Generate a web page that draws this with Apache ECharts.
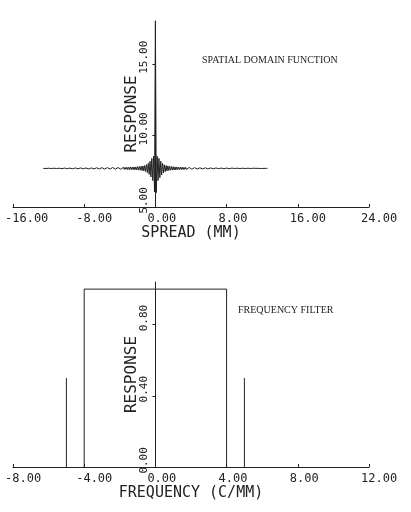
<!DOCTYPE html>
<html>
<head>
<meta charset="utf-8">
<script src="https://cdn.jsdelivr.net/npm/echarts@6/dist/echarts.min.js"></script>
<style>
    html, body { margin: 0; padding: 0; background: #fff; }
    #main { width: 411px; height: 512px; }
</style>
</head>
<body>
<div id="main"></div>
<script>
// spatial domain function, sampled every 0.1 mm from -12.6 mm
var spatialStart = -12.6;
var spatialStep = 0.1;
var spatialValues = [
    7.70, 7.69, 7.71, 7.69, 7.71, 7.69, 7.71, 7.69, 7.71, 7.69,
    7.71, 7.69, 7.71, 7.68, 7.71, 7.69, 7.72, 7.69, 7.71, 7.68,
    7.72, 7.68, 7.71, 7.68, 7.72, 7.68, 7.72, 7.68, 7.72, 7.68,
    7.72, 7.68, 7.72, 7.67, 7.72, 7.68, 7.73, 7.67, 7.72, 7.67,
    7.73, 7.67, 7.73, 7.67, 7.73, 7.67, 7.73, 7.67, 7.73, 7.67,
    7.73, 7.66, 7.74, 7.67, 7.73, 7.66, 7.74, 7.66, 7.74, 7.66,
    7.74, 7.66, 7.74, 7.66, 7.74, 7.65, 7.75, 7.66, 7.74, 7.65,
    7.75, 7.65, 7.75, 7.65, 7.75, 7.65, 7.75, 7.64, 7.76, 7.65,
    7.76, 7.64, 7.76, 7.64, 7.76, 7.64, 7.77, 7.64, 7.76, 7.63,
    7.77, 7.63, 7.77, 7.63, 7.78, 7.62, 7.78, 7.62, 7.79, 7.61,
    7.79, 7.61, 7.80, 7.60, 7.80, 7.59, 7.82, 7.58, 7.83, 7.57,
    7.85, 7.55, 7.87, 7.52, 7.90, 7.48, 7.96, 7.40, 8.05, 7.28,
    8.20, 7.10, 8.40, 6.85, 8.55, 6.05,
    18.00,
    6.00, 8.55, 6.85, 8.40, 7.05, 8.20,
    7.25, 8.05, 7.38, 7.95, 7.47, 7.90, 7.52, 7.87, 7.55, 7.85,
    7.57, 7.83, 7.58, 7.82, 7.59, 7.80, 7.60, 7.80, 7.61, 7.79,
    7.61, 7.78, 7.62, 7.78, 7.62, 7.77, 7.63, 7.77, 7.63, 7.76,
    7.64, 7.76, 7.64, 7.76, 7.64, 7.75, 7.65, 7.75, 7.65, 7.75,
    7.65, 7.75, 7.66, 7.74, 7.65, 7.74, 7.66, 7.74, 7.66, 7.74,
    7.66, 7.74, 7.66, 7.73, 7.67, 7.73, 7.67, 7.73, 7.67, 7.73,
    7.67, 7.73, 7.67, 7.73, 7.68, 7.72, 7.67, 7.72, 7.68, 7.72,
    7.68, 7.72, 7.68, 7.72, 7.68, 7.72, 7.68, 7.72, 7.69, 7.72,
    7.68, 7.71, 7.69, 7.71, 7.69, 7.71, 7.69, 7.71, 7.69, 7.71,
    7.69, 7.71, 7.69, 7.71, 7.69, 7.71, 7.69, 7.71, 7.70, 7.71,
    7.69, 7.71, 7.70, 7.71, 7.69, 7.70, 7.70, 7.71, 7.69, 7.70,
    7.70, 7.71, 7.69, 7.70, 7.70, 7.70, 7.71, 7.70, 7.70, 7.70
];
var spatialXTicks = [-16, -8, 0, 8, 16, 24];
var spatialYTicks = [5, 10, 15];
var spatialYMax = 18;

// frequency filter, null splits the pen strokes
var freqX = [-5, -5, null, -4, -4, 4, 4, null, 5, 5];
var freqY = [0, 0.5, null, 0, 1, 1, 0, null, 0, 0.5];
var freqXTicks = [-8, -4, 0, 4, 8, 12];
var freqYTicks = [0, 0.4, 0.8];
var freqYMax = 1.04;

(function () {
    var ink = '#222';
    var mono = 'DejaVu Sans Mono';
    var gridLeft = 13, gridWidth = 356;

    var spatialData = spatialValues.map(function (v, i) {
        return [spatialStart + i * spatialStep, v];
    });

    // split freqX/freqY into separate strokes at the nulls
    var strokes = [[]];
    freqX.forEach(function (x, i) {
        if (x === null) {
            strokes.push([]);
        } else {
            strokes[strokes.length - 1].push([x, freqY[i]]);
        }
    });

    // plotter labels start a little left of the tick, not centred on it
    var xAxisOf = function (ticks, name, gridIndex) {
        return {
            type: 'value',
            gridIndex: gridIndex,
            min: ticks[0],
            max: ticks[ticks.length - 1],
            interval: ticks[1] - ticks[0],
            name: name,
            nameLocation: 'middle',
            nameGap: 19,
            nameMoveOverlap: false,
            nameTextStyle: { fontFamily: mono, fontSize: 15, color: ink },
            axisLine: { onZero: false, lineStyle: { color: ink, width: 1 } },
            axisTick: { inside: true, length: 3, lineStyle: { color: ink } },
            axisLabel: {
                margin: 6, fontFamily: mono, fontSize: 12, color: ink,
                align: 'left',
                padding: [0, 0, 0, -8],
                hideOverlap: false,
                formatter: function (v) { return v.toFixed(2); }
            },
            splitLine: { show: false }
        };
    };

    // y axis is drawn at x = 0: shift it in from the grid's left edge
    var yAxisOf = function (ticks, max, xTicks, gridIndex) {
        var zeroShift = gridWidth * (0 - xTicks[0]) / (xTicks[xTicks.length - 1] - xTicks[0]);
        return {
            type: 'value',
            gridIndex: gridIndex,
            min: ticks[0],
            max: max,
            offset: -zeroShift,
            name: 'RESPONSE',
            nameLocation: 'middle',
            nameRotate: 90,
            nameGap: 16,
            nameMoveOverlap: false,
            nameTextStyle: { fontFamily: mono, fontSize: 16, color: ink },
            axisLine: { onZero: false, lineStyle: { color: ink, width: 1 } },
            axisTick: { customValues: ticks, length: 3, lineStyle: { color: ink } },
            axisLabel: {
                customValues: ticks,
                rotate: 90,
                align: 'center',
                verticalAlign: 'bottom',
                margin: 6, fontFamily: mono, fontSize: 11, color: ink,
                formatter: function (v) { return '  ' + v.toFixed(2); }
            },
            splitLine: { show: false }
        };
    };

    var lineOf = function (data, idx) {
        return {
            type: 'line',
            xAxisIndex: idx,
            yAxisIndex: idx,
            data: data,
            symbol: 'none',
            showSymbol: false,
            sampling: null,
            lineStyle: { color: ink, width: 1 },
            silent: true
        };
    };

    var chart = echarts.init(document.getElementById('main'));
    chart.setOption({
        animation: false,
        backgroundColor: '#fff',
        grid: [
            { left: gridLeft, width: gridWidth, top: 21, height: 186, containLabel: false, outerBoundsMode: 'none' },
            { left: gridLeft, width: gridWidth, top: 282, height: 185, containLabel: false, outerBoundsMode: 'none' }
        ],
        xAxis: [
            xAxisOf(spatialXTicks, 'SPREAD (MM)', 0),
            xAxisOf(freqXTicks, 'FREQUENCY (C/MM)', 1)
        ],
        yAxis: [
            yAxisOf(spatialYTicks, spatialYMax, spatialXTicks, 0),
            yAxisOf(freqYTicks, freqYMax, freqXTicks, 1)
        ],
        graphic: [
            {
                type: 'text', left: 202, top: 55,
                style: { text: 'SPATIAL DOMAIN FUNCTION', font: '10px "Liberation Serif"', fill: ink }
            },
            {
                type: 'text', left: 238, top: 305,
                style: { text: 'FREQUENCY FILTER', font: '10px "Liberation Serif"', fill: ink }
            }
        ],
        series: [lineOf(spatialData, 0)].concat(strokes.map(function (s) {
            return lineOf(s, 1);
        }))
    });
})();
</script>
</body>
</html>
